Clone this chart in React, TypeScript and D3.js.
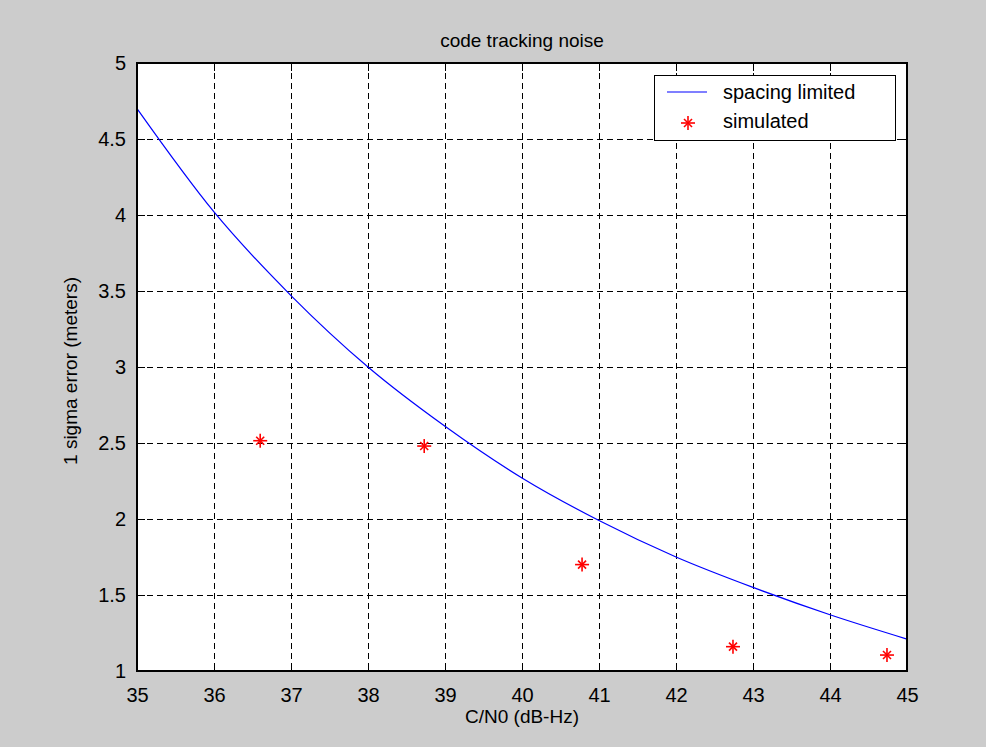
import { useEffect, useRef } from "react";
import * as d3 from "d3";

// C/N0 in dB-Hz and the theoretical spacing-limited curve
const cn0 = [35, 36, 37, 38, 39, 40, 41, 42, 43, 44, 45];
const spacingLimited = [4.7, 4.02, 3.47, 3.0, 2.61, 2.27, 1.99, 1.75, 1.55, 1.37, 1.21];

// simulated points
const simCn0 = [36.6, 38.73, 40.78, 42.74, 44.74];
const simError = [2.515, 2.48, 1.7, 1.16, 1.105];

const xTicks = [35, 36, 37, 38, 39, 40, 41, 42, 43, 44, 45];
const yTicks = [1, 1.5, 2, 2.5, 3, 3.5, 4, 4.5, 5];

const seriesNames = ["spacing limited", "simulated"];

export default function App() {
    const svgRef = useRef<SVGSVGElement>(null);

    useEffect(() => {
        const width = 986, height = 747;
        const svg = d3.select(svgRef.current).attr("width", width).attr("height", height);
        svg.selectAll("*").remove();

        const margin = { top: 63, right: 79, bottom: 76, left: 137 };
        const w = width - margin.left - margin.right;
        const h = height - margin.top - margin.bottom;
        const font = "Arial, 'Liberation Sans', sans-serif";

        svg.append("rect").attr("width", width).attr("height", height).attr("fill", "#cccccc");

        const x = d3.scaleLinear().domain([35, 45]).range([0, w]);
        const y = d3.scaleLinear().domain([1, 5]).range([h, 0]);

        const g = svg.append("g").attr("transform", `translate(${margin.left},${margin.top})`);
        g.append("rect").attr("width", w).attr("height", h).attr("fill", "white");

        // grid
        const grid = g.append("g").attr("stroke", "#000").attr("stroke-dasharray", "6,4").attr("shape-rendering", "crispEdges");
        xTicks.slice(1, -1).forEach((t) => {
            grid.append("line").attr("x1", x(t)).attr("x2", x(t)).attr("y1", 0).attr("y2", h);
        });
        yTicks.slice(1, -1).forEach((t) => {
            grid.append("line").attr("x1", 0).attr("x2", w).attr("y1", y(t)).attr("y2", y(t));
        });

        // axes, ticks pointing inward
        const styleAxis = (sel) => {
            sel.select(".domain").remove();
            sel.selectAll("line").attr("stroke", "#000").attr("shape-rendering", "crispEdges");
            sel.selectAll("text").attr("font-family", font).attr("font-size", 20).attr("fill", "#000");
        };
        g.append("g").attr("transform", `translate(0,${h})`)
            .call(d3.axisBottom(x).tickValues(xTicks).tickFormat(d3.format("d")).tickSizeInner(-8).tickPadding(17))
            .call(styleAxis);
        g.append("g")
            .call(d3.axisTop(x).tickValues(xTicks).tickSizeInner(-8).tickFormat(() => ""))
            .call(styleAxis);
        g.append("g")
            .call(d3.axisLeft(y).tickValues(yTicks).tickFormat(d3.format("")).tickSizeInner(-8).tickPadding(11))
            .call(styleAxis);
        g.append("g").attr("transform", `translate(${w},0)`)
            .call(d3.axisRight(y).tickValues(yTicks).tickSizeInner(-8).tickFormat(() => ""))
            .call(styleAxis);

        // curve
        const line = d3.line<number>().x((d, i) => x(cn0[i])).y((d) => y(d)).curve(d3.curveMonotoneX);
        g.append("path").datum(spacingLimited).attr("d", line)
            .attr("fill", "none").attr("stroke", "#0000ff").attr("stroke-width", 1.2);

        // star markers
        const star = (sel, cx, cy) => {
            const s = sel.append("g").attr("transform", `translate(${cx},${cy})`)
                .attr("stroke", "#ff0000").attr("stroke-width", 1.6);
            s.append("line").attr("x1", -7).attr("x2", 7).attr("y1", 0).attr("y2", 0);
            s.append("line").attr("x1", 0).attr("x2", 0).attr("y1", -7).attr("y2", 7);
            s.append("line").attr("x1", -4).attr("x2", 4).attr("y1", -4).attr("y2", 4);
            s.append("line").attr("x1", -4).attr("x2", 4).attr("y1", 4).attr("y2", -4);
        };
        simCn0.forEach((c, i) => star(g, x(c), y(simError[i])));

        // box
        g.append("rect").attr("width", w).attr("height", h).attr("fill", "none")
            .attr("stroke", "#000").attr("stroke-width", 1.2).attr("shape-rendering", "crispEdges");

        // legend
        const lg = g.append("g").attr("transform", `translate(${w - 253},12)`);
        lg.append("rect").attr("width", 241).attr("height", 65).attr("fill", "white")
            .attr("stroke", "#000").attr("shape-rendering", "crispEdges");
        lg.append("line").attr("x1", 13).attr("x2", 53).attr("y1", 17).attr("y2", 17)
            .attr("stroke", "#0000ff").attr("stroke-width", 1.2);
        star(lg, 34, 48);
        seriesNames.forEach((n, i) => {
            lg.append("text").attr("x", 69).attr("y", 24 + i * 29).text(n)
                .attr("font-family", font).attr("font-size", 20).attr("fill", "#000");
        });

        // labels
        svg.append("text").attr("x", margin.left + w / 2).attr("y", 47).attr("text-anchor", "middle")
            .attr("font-family", font).attr("font-size", 19).text("code tracking noise");
        svg.append("text").attr("x", margin.left + w / 2).attr("y", 723).attr("text-anchor", "middle")
            .attr("font-family", font).attr("font-size", 19).text("C/N0 (dB-Hz)");
        svg.append("text").attr("transform", `translate(77,${margin.top + h / 2 + 4}) rotate(-90)`)
            .attr("text-anchor", "middle").attr("font-family", font).attr("font-size", 19)
            .text("1 sigma error (meters)");
    }, []);

    return <svg ref={svgRef} style={{ position: "absolute", left: 0, top: 0 }}></svg>;
}
